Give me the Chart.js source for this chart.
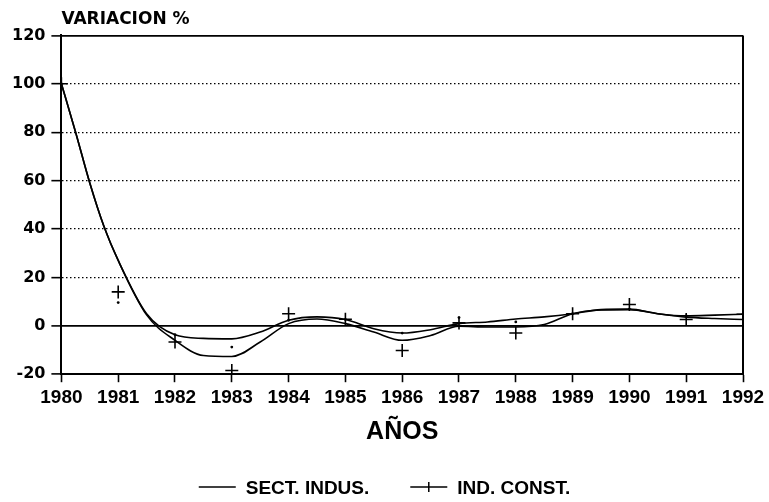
<!DOCTYPE html>
<html>
<head>
<meta charset="utf-8">
<script src="https://cdn.jsdelivr.net/npm/chart.js@4.4.1/dist/chart.umd.min.js"></script>
<style>
  html, body { margin: 0; padding: 0; background: #fff; }
  #wrap { width: 769px; height: 502px; }
</style>
</head>
<body>
<div id="wrap"><canvas id="myChart"></canvas></div>
<script>
// Datos
const years = [1980, 1981, 1982, 1983, 1984, 1985, 1986, 1987, 1988, 1989, 1990, 1991, 1992];
const yTicks = [-20, 0, 20, 40, 60, 80, 100, 120];

// curvas suavizadas (leidas cada medio anio)
const curveYears = [1980, 1980.25, 1980.5, 1980.75,
  1981, 1981.5, 1982, 1982.5, 1983, 1983.5, 1984, 1984.5, 1985, 1985.5, 1986, 1986.5,
  1987, 1987.5, 1988, 1988.5, 1989, 1989.5, 1990, 1990.5, 1991, 1991.5, 1992];
const sectIndusCurve = [100, 80, 59, 41,
  27, 5, -3.7, -5.2, -5.4, -2.6, 2.3, 3.7, 2.6, -1.2, -3, -1.6,
  0.9, 1.6, 2.8, 3.7, 5, 6.7, 6.9, 5, 4.1, 4.4, 4.8];
const indConstCurve = [100, 80, 59, 41,
  27, 4.5, -6, -12.3, -12.7, -6.7, 0.9, 2.8, 0.9, -2.6, -6, -4,
  -0.2, -0.5, -0.5, 0.5, 5, 6.5, 6.7, 5, 3.6, 3, 2.6];

// puntos anuales
const indConstPoints = [100, 14, -6.7, -18.5, 5, 2.7, -10.2, 1.2, -3, 5, 8.8, 2.6, 4.8];
const sectIndusPoints = [100, 9.6, -3.7, -8.8, 2.3, 2.6, -3, 3.4, 1.6, 5, 6.9, 4.1, 4.8];

const toXY = (xs, ys) => xs.map((x, i) => ({ x: x, y: ys[i] }));

// marco derecho
const frame = {
  id: "frame",
  afterDatasetsDraw(chart) {
    const { ctx, chartArea } = chart;
    ctx.save();
    ctx.strokeStyle = "#000";
    ctx.lineWidth = 2;
    ctx.beginPath();
    ctx.moveTo(chartArea.right, chartArea.top);
    ctx.lineTo(chartArea.right, chartArea.bottom);
    ctx.stroke();
    ctx.restore();
  }
};

// leyenda abajo
const legendAbajo = {
  id: "legendAbajo",
  afterDraw(chart) {
    const ctx = chart.ctx;
    const items = [
      { text: chart.data.datasets[0].label, cruz: false },
      { text: chart.data.datasets[1].label, cruz: true }
    ];
    const muestra = 37, sep = 10, hueco = 41;
    ctx.save();
    ctx.font = 'bold 19px "Liberation Sans"';
    let total = 0;
    items.forEach((it, i) => {
      total += muestra + sep + ctx.measureText(it.text).width + (i < items.length - 1 ? hueco : 0);
    });
    let x = (chart.width - total) / 2;
    const y = chart.height - 15;
    ctx.strokeStyle = "#000";
    ctx.fillStyle = "#000";
    ctx.lineWidth = 1.5;
    ctx.textBaseline = "middle";
    items.forEach((it) => {
      ctx.beginPath();
      ctx.moveTo(x, y);
      ctx.lineTo(x + muestra, y);
      if (it.cruz) {
        ctx.moveTo(x + muestra / 2, y - 5);
        ctx.lineTo(x + muestra / 2, y + 5);
      }
      ctx.stroke();
      ctx.fillText(it.text, x + muestra + sep, y + 2);
      x += muestra + sep + ctx.measureText(it.text).width + hueco;
    });
    ctx.restore();
  }
};

const solidAt = (v) => v === 0 || v === 120 || v === -20;

const ctx = document.getElementById("myChart");

new Chart(ctx, {
  type: "line",
  data: {
    datasets: [
      {
        label: "SECT. INDUS.",
        data: toXY(curveYears, sectIndusCurve),
        borderColor: "#000",
        borderWidth: 1.6,
        pointRadius: 0,
        cubicInterpolationMode: "monotone",
        fill: false,
      },
      {
        label: "IND. CONST.",
        data: toXY(curveYears, indConstCurve),
        borderColor: "#000",
        borderWidth: 1.6,
        pointRadius: 0,
        cubicInterpolationMode: "monotone",
        fill: false,
      },
      {
        label: "IND. CONST. puntos",
        data: toXY(years, indConstPoints),
        showLine: false,
        pointStyle: "cross",
        pointRadius: 6.5,
        pointBorderWidth: 1.6,
        pointBorderColor: "#000",
      },
      {
        label: "SECT. INDUS. puntos",
        data: toXY(years, sectIndusPoints),
        showLine: false,
        pointStyle: "circle",
        pointRadius: 1.4,
        pointBorderWidth: 0,
        pointBackgroundColor: "#000",
      },
    ],
  },
  options: {
    responsive: true,
    maintainAspectRatio: false,
    animation: false,
    layout: { padding: { left: 6, right: 26, top: 0, bottom: 55 } },
    plugins: {
      legend: { display: false },
      tooltip: { enabled: false },
      title: {
        display: true,
        text: "VARIACION %",
        align: "start",
        fullSize: false,
        color: "#000",
        font: { family: "DejaVu Sans", weight: "bold", size: 17 },
        padding: { top: 9, bottom: 6 },
      },
    },
    scales: {
      x: {
        type: "linear",
        min: 1980,
        max: 1992,
        afterBuildTicks: (scale) => { scale.ticks = years.map((v) => ({ value: v })); },
        ticks: {
          color: "#000",
          font: { family: "Liberation Sans", weight: "bold", size: 19 },
          padding: 4,
          maxRotation: 0,
          autoSkip: false,
          callback: (v) => String(v),
        },
        grid: {
          drawOnChartArea: false,
          drawTicks: true,
          tickLength: 8,
          tickColor: "#000",
          tickWidth: 1.6,
          color: "#000",
        },
        border: { display: true, color: "#000", width: 2 },
        title: {
          display: true,
          text: "AÑOS",
          color: "#000",
          font: { family: "Liberation Sans", weight: "bold", size: 25 },
          padding: { top: 4, bottom: 0 },
        },
      },
      y: {
        min: -20,
        max: 120,
        afterBuildTicks: (scale) => { scale.ticks = yTicks.map((v) => ({ value: v })); },
        ticks: {
          color: "#000",
          font: { family: "DejaVu Sans", weight: "bold", size: 16 },
          padding: 6,
        },
        grid: {
          color: "#000",
          lineWidth: (c) => (c.tick && solidAt(c.tick.value) ? 1.8 : 1.3),
          drawTicks: true,
          tickLength: 10,
          tickColor: "#000",
          tickWidth: 1.6,
        },
        border: {
          display: true,
          color: "#000",
          width: 2,
          dash: (c) => (c.tick && solidAt(c.tick.value) ? [] : [1.5, 2.5]),
        },
      },
    },
  },
  plugins: [frame, legendAbajo],
});
</script>
</body>
</html>
